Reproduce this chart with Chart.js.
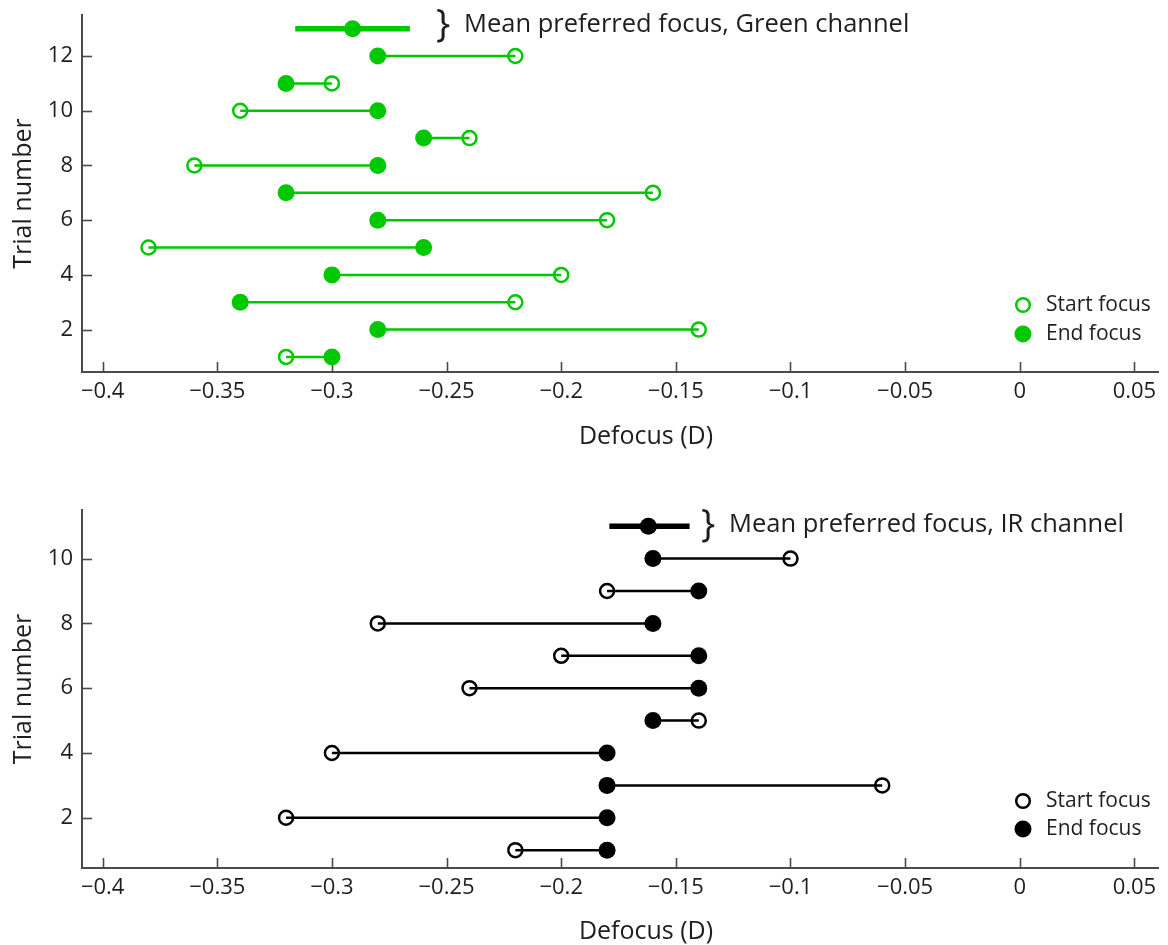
<!DOCTYPE html>
<html>
<head>
<meta charset="utf-8">
<script src="https://cdn.jsdelivr.net/npm/chart.js@4.4.1/dist/chart.umd.min.js"></script>
<style>
  html, body { margin: 0; padding: 0; background: #ffffff; }
  #wrap { position: relative; width: 1168px; height: 945px; overflow: hidden; }
  canvas { position: absolute; left: 0; }
  #c1 { top: 0; }
  #c2 { top: 470px; }
</style>
</head>
<body>
<div id="wrap">
  <canvas id="c1" width="1168" height="470"></canvas>
  <canvas id="c2" width="1168" height="475"></canvas>
</div>
<script>
// ---------------- DATA ----------------
const greenTrials = [1, 2, 3, 4, 5, 6, 7, 8, 9, 10, 11, 12];
const greenStart  = [-0.32, -0.14, -0.22, -0.20, -0.38, -0.18, -0.16, -0.36, -0.24, -0.34, -0.30, -0.22];
const greenEnd    = [-0.30, -0.28, -0.34, -0.30, -0.26, -0.28, -0.32, -0.28, -0.26, -0.28, -0.32, -0.28];
const greenMeanRow = 13;
const greenMean    = -0.291;
const greenMeanLo  = -0.316;
const greenMeanHi  = -0.266;

const irTrials = [1, 2, 3, 4, 5, 6, 7, 8, 9, 10];
const irStart  = [-0.22, -0.32, -0.06, -0.30, -0.14, -0.24, -0.20, -0.28, -0.18, -0.10];
const irEnd    = [-0.18, -0.18, -0.18, -0.18, -0.16, -0.14, -0.14, -0.16, -0.14, -0.16];
const irMeanRow = 11;
const irMean    = -0.162;
const irMeanLo  = -0.179;
const irMeanHi  = -0.144;

const xTickValues = [-0.4, -0.35, -0.3, -0.25, -0.2, -0.15, -0.1, -0.05, 0, 0.05];
const xTickLabels = ['\u22120.4', '\u22120.35', '\u22120.3', '\u22120.25', '\u22120.2', '\u22120.15', '\u22120.1', '\u22120.05', '0', '0.05'];
const greenYTicks = [2, 4, 6, 8, 10, 12];
const irYTicks    = [2, 4, 6, 8, 10];

const xTitle = 'Defocus (D)';
const yTitle = 'Trial number';
const greenNote = 'Mean preferred focus, Green channel';
const irNote    = 'Mean preferred focus, IR channel';
const legendStart = 'Start focus';
const legendEnd   = 'End focus';

// ---------------- STYLE ----------------
const FONT = "'Open Sans', 'Noto Sans', sans-serif";
const AXIS = '#4a4a4a';
const TEXT = '#1e1e1e';
Chart.defaults.font.family = FONT;
Chart.defaults.color = TEXT;

function connectorData(trials, starts, ends) {
  const out = [];
  trials.forEach((t, i) => {
    out.push({ x: starts[i], y: t });
    out.push({ x: ends[i], y: t });
    out.push({ x: ends[i], y: null });
  });
  return out;
}

const inwardTicks = {
  id: 'inwardTicks',
  beforeDatasetsDraw(chart) {
    const { ctx, chartArea: a } = chart;
    const xs = chart.scales.x, ys = chart.scales.y;
    ctx.save();
    ctx.strokeStyle = AXIS;
    ctx.lineWidth = 1.6;
    xs.ticks.forEach(t => {
      const px = Math.round(xs.getPixelForValue(t.value)) + 0.5;
      ctx.beginPath(); ctx.moveTo(px, a.bottom); ctx.lineTo(px, a.bottom - 10); ctx.stroke();
    });
    ys.ticks.forEach(t => {
      const py = Math.round(ys.getPixelForValue(t.value)) + 0.5;
      ctx.beginPath(); ctx.moveTo(a.left, py); ctx.lineTo(a.left + 10, py); ctx.stroke();
    });
    ctx.restore();
  }
};

const notes = {
  id: 'notes',
  afterDraw(chart, args, o) {
    const ctx = chart.ctx;
    const a = chart.chartArea;
    ctx.save();
    ctx.fillStyle = TEXT;
    ctx.textBaseline = 'middle';
    // x axis title
    ctx.textAlign = 'center';
    ctx.font = "25px " + FONT;
    ctx.fillText(xTitle, o.xTitleX, a.bottom + o.xTitleDy);
    // mean annotation
    ctx.font = "38px " + FONT;
    ctx.fillText('}', o.braceX, o.noteY + 1);
    ctx.textAlign = 'left';
    ctx.font = "25.5px " + FONT;
    ctx.fillText(o.note, o.textX, o.noteY);
    // legend
    const lx = o.legendX, ly1 = o.legendY1, ly2 = o.legendY2;
    ctx.strokeStyle = o.color; ctx.lineWidth = 2.5;
    ctx.beginPath(); ctx.arc(lx, ly1, 6.8, 0, Math.PI * 2); ctx.stroke();
    ctx.fillStyle = o.color;
    ctx.beginPath(); ctx.arc(lx, ly2, 8.5, 0, Math.PI * 2); ctx.fill();
    ctx.fillStyle = TEXT;
    ctx.font = "21px " + FONT;
    ctx.fillText(legendStart, o.legendX + 23, ly1);
    ctx.fillText(legendEnd, o.legendX + 23, ly2);
    ctx.restore();
  }
};

function makeChart(id, cfg) {
  const H = cfg.height;
  return new Chart(document.getElementById(id), {
    type: 'scatter',
    data: {
      datasets: [
        {
          type: 'line', label: 'connector',
          data: connectorData(cfg.trials, cfg.starts, cfg.ends),
          borderColor: cfg.color, borderWidth: 2.5, pointRadius: 0, spanGaps: false, tension: 0
        },
        {
          type: 'line', label: 'meanRange',
          data: [{ x: cfg.meanLo, y: cfg.meanRow }, { x: cfg.meanHi, y: cfg.meanRow }],
          borderColor: cfg.color, borderWidth: 5.5, pointRadius: 0, tension: 0
        },
        {
          label: 'mean',
          data: [{ x: cfg.mean, y: cfg.meanRow }],
          pointRadius: 8.5, pointBackgroundColor: cfg.color, pointBorderWidth: 0, pointBorderColor: cfg.color
        },
        {
          label: legendStart,
          data: cfg.trials.map((t, i) => ({ x: cfg.starts[i], y: t })),
          pointRadius: 7, pointBorderWidth: 2.5, pointBorderColor: cfg.color, pointBackgroundColor: 'rgba(0,0,0,0)'
        },
        {
          label: legendEnd,
          data: cfg.trials.map((t, i) => ({ x: cfg.ends[i], y: t })),
          pointRadius: 8.5, pointBorderWidth: 0, pointBackgroundColor: cfg.color, pointBorderColor: cfg.color
        }
      ]
    },
    options: {
      responsive: false,
      animation: false,
      events: [],
      layout: { padding: { top: cfg.areaTop, right: 7, left: 0, bottom: 0 } },
      plugins: {
        legend: { display: false },
        tooltip: { enabled: false },
        notes: cfg.notes
      },
      scales: {
        x: {
          type: 'linear', min: -0.409, max: 0.0605,
          afterBuildTicks: s => { s.ticks = xTickValues.map(v => ({ value: v })); },
          afterFit: s => { s.height = H - cfg.areaBottom; s.paddingLeft = 0; s.paddingRight = 0; s.paddingTop = 0; s.paddingBottom = 0; },
          grid: { display: false, drawTicks: false },
          border: { display: true, color: AXIS, width: 2 },
          ticks: { padding: 7, color: TEXT, font: { size: 22 }, maxRotation: 0, autoSkip: false,
                   callback: (v, i) => xTickLabels[i] },
          title: { display: false }
        },
        y: {
          type: 'linear', min: 0.45, max: cfg.yMax,
          afterBuildTicks: s => { s.ticks = cfg.yTicks.map(v => ({ value: v })); },
          afterFit: s => { s.width = 82; s.paddingTop = 0; s.paddingBottom = 0; s.paddingLeft = 0; s.paddingRight = 0; },
          grid: { display: false, drawTicks: false },
          border: { display: true, color: AXIS, width: 2 },
          ticks: { padding: 9, color: TEXT, font: { size: 22 }, autoSkip: false },
          title: { display: true, text: yTitle, color: TEXT, font: { size: 25 }, padding: { top: 9, bottom: 0 } }
        }
      }
    },
    plugins: [inwardTicks, notes]
  });
}

makeChart('c1', {
  height: 470, areaTop: 15, areaBottom: 372, yMax: 13.5,
  color: '#00c800',
  trials: greenTrials, starts: greenStart, ends: greenEnd,
  meanRow: greenMeanRow, mean: greenMean, meanLo: greenMeanLo, meanHi: greenMeanHi,
  yTicks: greenYTicks,
  notes: { note: greenNote, braceX: 443, textX: 464, noteY: 25, legendX: 1023, legendY1: 305, legendY2: 334,
           color: '#00c800', xTitleX: 646, xTitleDy: 65 }
});

makeChart('c2', {
  height: 475, areaTop: 40, areaBottom: 398, yMax: 11.5,
  color: '#000000',
  trials: irTrials, starts: irStart, ends: irEnd,
  meanRow: irMeanRow, mean: irMean, meanLo: irMeanLo, meanHi: irMeanHi,
  yTicks: irYTicks,
  notes: { note: irNote, braceX: 708, textX: 729, noteY: 55, legendX: 1023, legendY1: 331, legendY2: 359,
           color: '#000000', xTitleX: 646, xTitleDy: 64 }
});
</script>
</body>
</html>
